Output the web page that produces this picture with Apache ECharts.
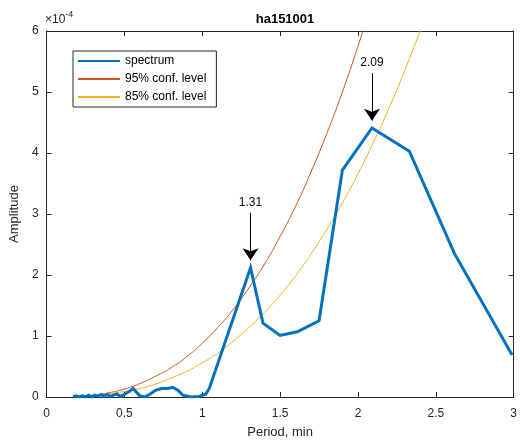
<!DOCTYPE html>
<html>
<head>
<meta charset="utf-8">
<script src="https://cdn.jsdelivr.net/npm/echarts@6/dist/echarts.min.js"></script>
<style>
  html, body { margin: 0; padding: 0; background: #fff; }
  #chart { width: 520px; height: 444px; }
</style>
</head>
<body>
<div id="chart"></div>
<script>
// Spectrum of ha151001: period (min) and amplitude (units of 1e-4)
const spectrumPeriod = [0.17, 0.19, 0.21, 0.23, 0.25, 0.27, 0.29, 0.31, 0.33, 0.35, 0.37, 0.39, 0.41,
  0.45, 0.475, 0.505, 0.535, 0.556, 0.598, 0.63, 0.665, 0.70, 0.737, 0.78, 0.811, 0.843, 0.875,
  0.93, 0.98, 1.023, 1.045, 1.31, 1.39, 1.50, 1.61, 1.75, 1.90, 2.09, 2.33, 2.62, 2.99];
const spectrumAmp = [0.00, 0.02, 0.00, 0.02, 0.00, 0.03, 0.00, 0.03, 0.01, 0.04, 0.01, 0.04, 0.01,
  0.05, 0.01, 0.05, 0.10, 0.14, 0.02, 0.00, 0.05, 0.11, 0.14, 0.14, 0.16, 0.11, 0.03,
  0.00, 0.01, 0.05, 0.14, 2.12, 1.21, 1.01, 1.07, 1.25, 3.72, 4.41, 4.03, 2.35, 0.69];

// Confidence levels (amplitude, units of 1e-4) sampled on a common period grid
const confPeriod = [0.17, 0.3, 0.4, 0.5, 0.6, 0.7, 0.8, 0.9, 1.0, 1.1, 1.2, 1.3, 1.4, 1.5,
  1.6, 1.7, 1.8, 1.9, 2.0, 2.1, 2.2, 2.3, 2.4, 2.5];
const conf95 = [0.01, 0.03, 0.07, 0.13, 0.22, 0.34, 0.48, 0.66, 0.88, 1.14, 1.44, 1.79, 2.18, 2.63,
  3.13, 3.70, 4.32, 5.00, 5.75, 6.56, 7.45, 8.40, 9.40, 10.5];
const conf85 = [0.00, 0.02, 0.05, 0.09, 0.14, 0.21, 0.31, 0.42, 0.56, 0.72, 0.92, 1.14, 1.39, 1.67,
  1.99, 2.35, 2.75, 3.18, 3.66, 4.18, 4.74, 5.35, 6.01, 6.72];

// Labelled peaks (period values)
const peakPeriods = [1.31, 2.09];

const axisColor = '#262626';
const font = 'Liberation Sans, Arial, sans-serif';

const zip = (xs, ys) => xs.map((x, i) => [x, ys[i]]);

// Arrow annotations: pointing down at each labelled peak
const peakArrows = peakPeriods.map(p => {
  const idx = spectrumPeriod.indexOf(p);
  const amp = spectrumAmp[idx];
  return [
    { coord: [p, amp + 0.90], label: { formatter: p.toFixed(2) } },
    { coord: [p, amp + 0.12] }
  ];
});

const chart = echarts.init(document.getElementById('chart'), null, { renderer: 'canvas' });

const baseX = {
  type: 'value', min: 0, max: 3, interval: 0.5,
  axisLine: { show: true, onZero: false, lineStyle: { color: axisColor, width: 1 } },
  axisTick: { show: true, inside: true, length: 5, lineStyle: { color: axisColor } },
  splitLine: { show: false }
};
const baseY = {
  type: 'value', min: 0, max: 6, interval: 1,
  axisLine: { show: true, onZero: false, lineStyle: { color: axisColor, width: 1 } },
  axisTick: { show: true, inside: true, length: 5, lineStyle: { color: axisColor } },
  splitLine: { show: false }
};

chart.setOption({
  animation: false,
  backgroundColor: '#ffffff',
  textStyle: { fontFamily: font },
  title: {
    text: 'ha151001',
    left: 280, top: 8, textAlign: 'center',
    textStyle: { fontFamily: font, fontSize: 13, fontWeight: 'bold', color: '#000' }
  },
  grid: { left: 44, right: 4, top: 31, bottom: 45 },
  legend: {
    orient: 'vertical',
    left: 73, top: 51,
    padding: [4, 10, 4, 4],
    itemGap: 6,
    itemWidth: 42, itemHeight: 12,
    borderColor: axisColor, borderWidth: 1,
    backgroundColor: '#fff',
    itemStyle: { opacity: 0 },
    textStyle: { fontFamily: font, fontSize: 12, color: '#000' },
    data: ['spectrum', '95% conf. level', '85% conf. level']
  },
  xAxis: [
    Object.assign({}, baseX, {
      position: 'bottom',
      name: 'Period, min', nameLocation: 'middle', nameGap: 29,
      nameTextStyle: { fontFamily: font, fontSize: 13, color: '#262626' },
      axisLabel: { show: true, margin: 11, color: '#262626', fontSize: 12, fontFamily: font,
        formatter: v => String(v) }
    }),
    Object.assign({}, baseX, { position: 'top', axisLabel: { show: false } })
  ],
  yAxis: [
    Object.assign({}, baseY, {
      position: 'left',
      name: 'Amplitude', nameLocation: 'middle', nameGap: 19,
      nameTextStyle: { fontFamily: font, fontSize: 13, color: '#262626' },
      axisLabel: { show: true, margin: 8, color: '#262626', fontSize: 12, fontFamily: font }
    }),
    Object.assign({}, baseY, { position: 'right', axisLabel: { show: false } })
  ],
  graphic: [{
    type: 'text',
    left: 45, top: 10,
    style: {
      text: '{b|×10}{s|-4}',
      rich: {
        b: { fontFamily: font, fontSize: 12, fill: '#262626', verticalAlign: 'bottom', lineHeight: 16 },
        s: { fontFamily: font, fontSize: 9, fill: '#262626', verticalAlign: 'top', lineHeight: 16, padding: [0, 0, 8, 0] }
      }
    }
  }],
  series: [
    {
      name: '95% conf. level', type: 'line',
      data: zip(confPeriod, conf95),
      smooth: true, showSymbol: false, symbol: 'none', clip: true,
      lineStyle: { color: '#D95319', width: 1 },
      itemStyle: { color: '#D95319' },
      z: 2
    },
    {
      name: '85% conf. level', type: 'line',
      data: zip(confPeriod, conf85),
      smooth: true, showSymbol: false, symbol: 'none', clip: true,
      lineStyle: { color: '#EDB120', width: 1 },
      itemStyle: { color: '#EDB120' },
      z: 2
    },
    {
      name: 'spectrum', type: 'line',
      data: zip(spectrumPeriod, spectrumAmp),
      showSymbol: false, symbol: 'none', clip: true,
      lineStyle: { color: '#0072BD', width: 3, join: 'miter' },
      itemStyle: { color: '#0072BD' },
      z: 3,
      markLine: {
        silent: true,
        symbol: ['none', 'arrow'],
        symbolSize: 12,
        lineStyle: { color: '#000', width: 1, type: 'solid' },
        itemStyle: { color: '#000' },
        label: { show: true, position: 'start', distance: 4, color: '#000', fontSize: 12, fontFamily: font },
        data: peakArrows
      }
    }
  ]
});
</script>
</body>
</html>
